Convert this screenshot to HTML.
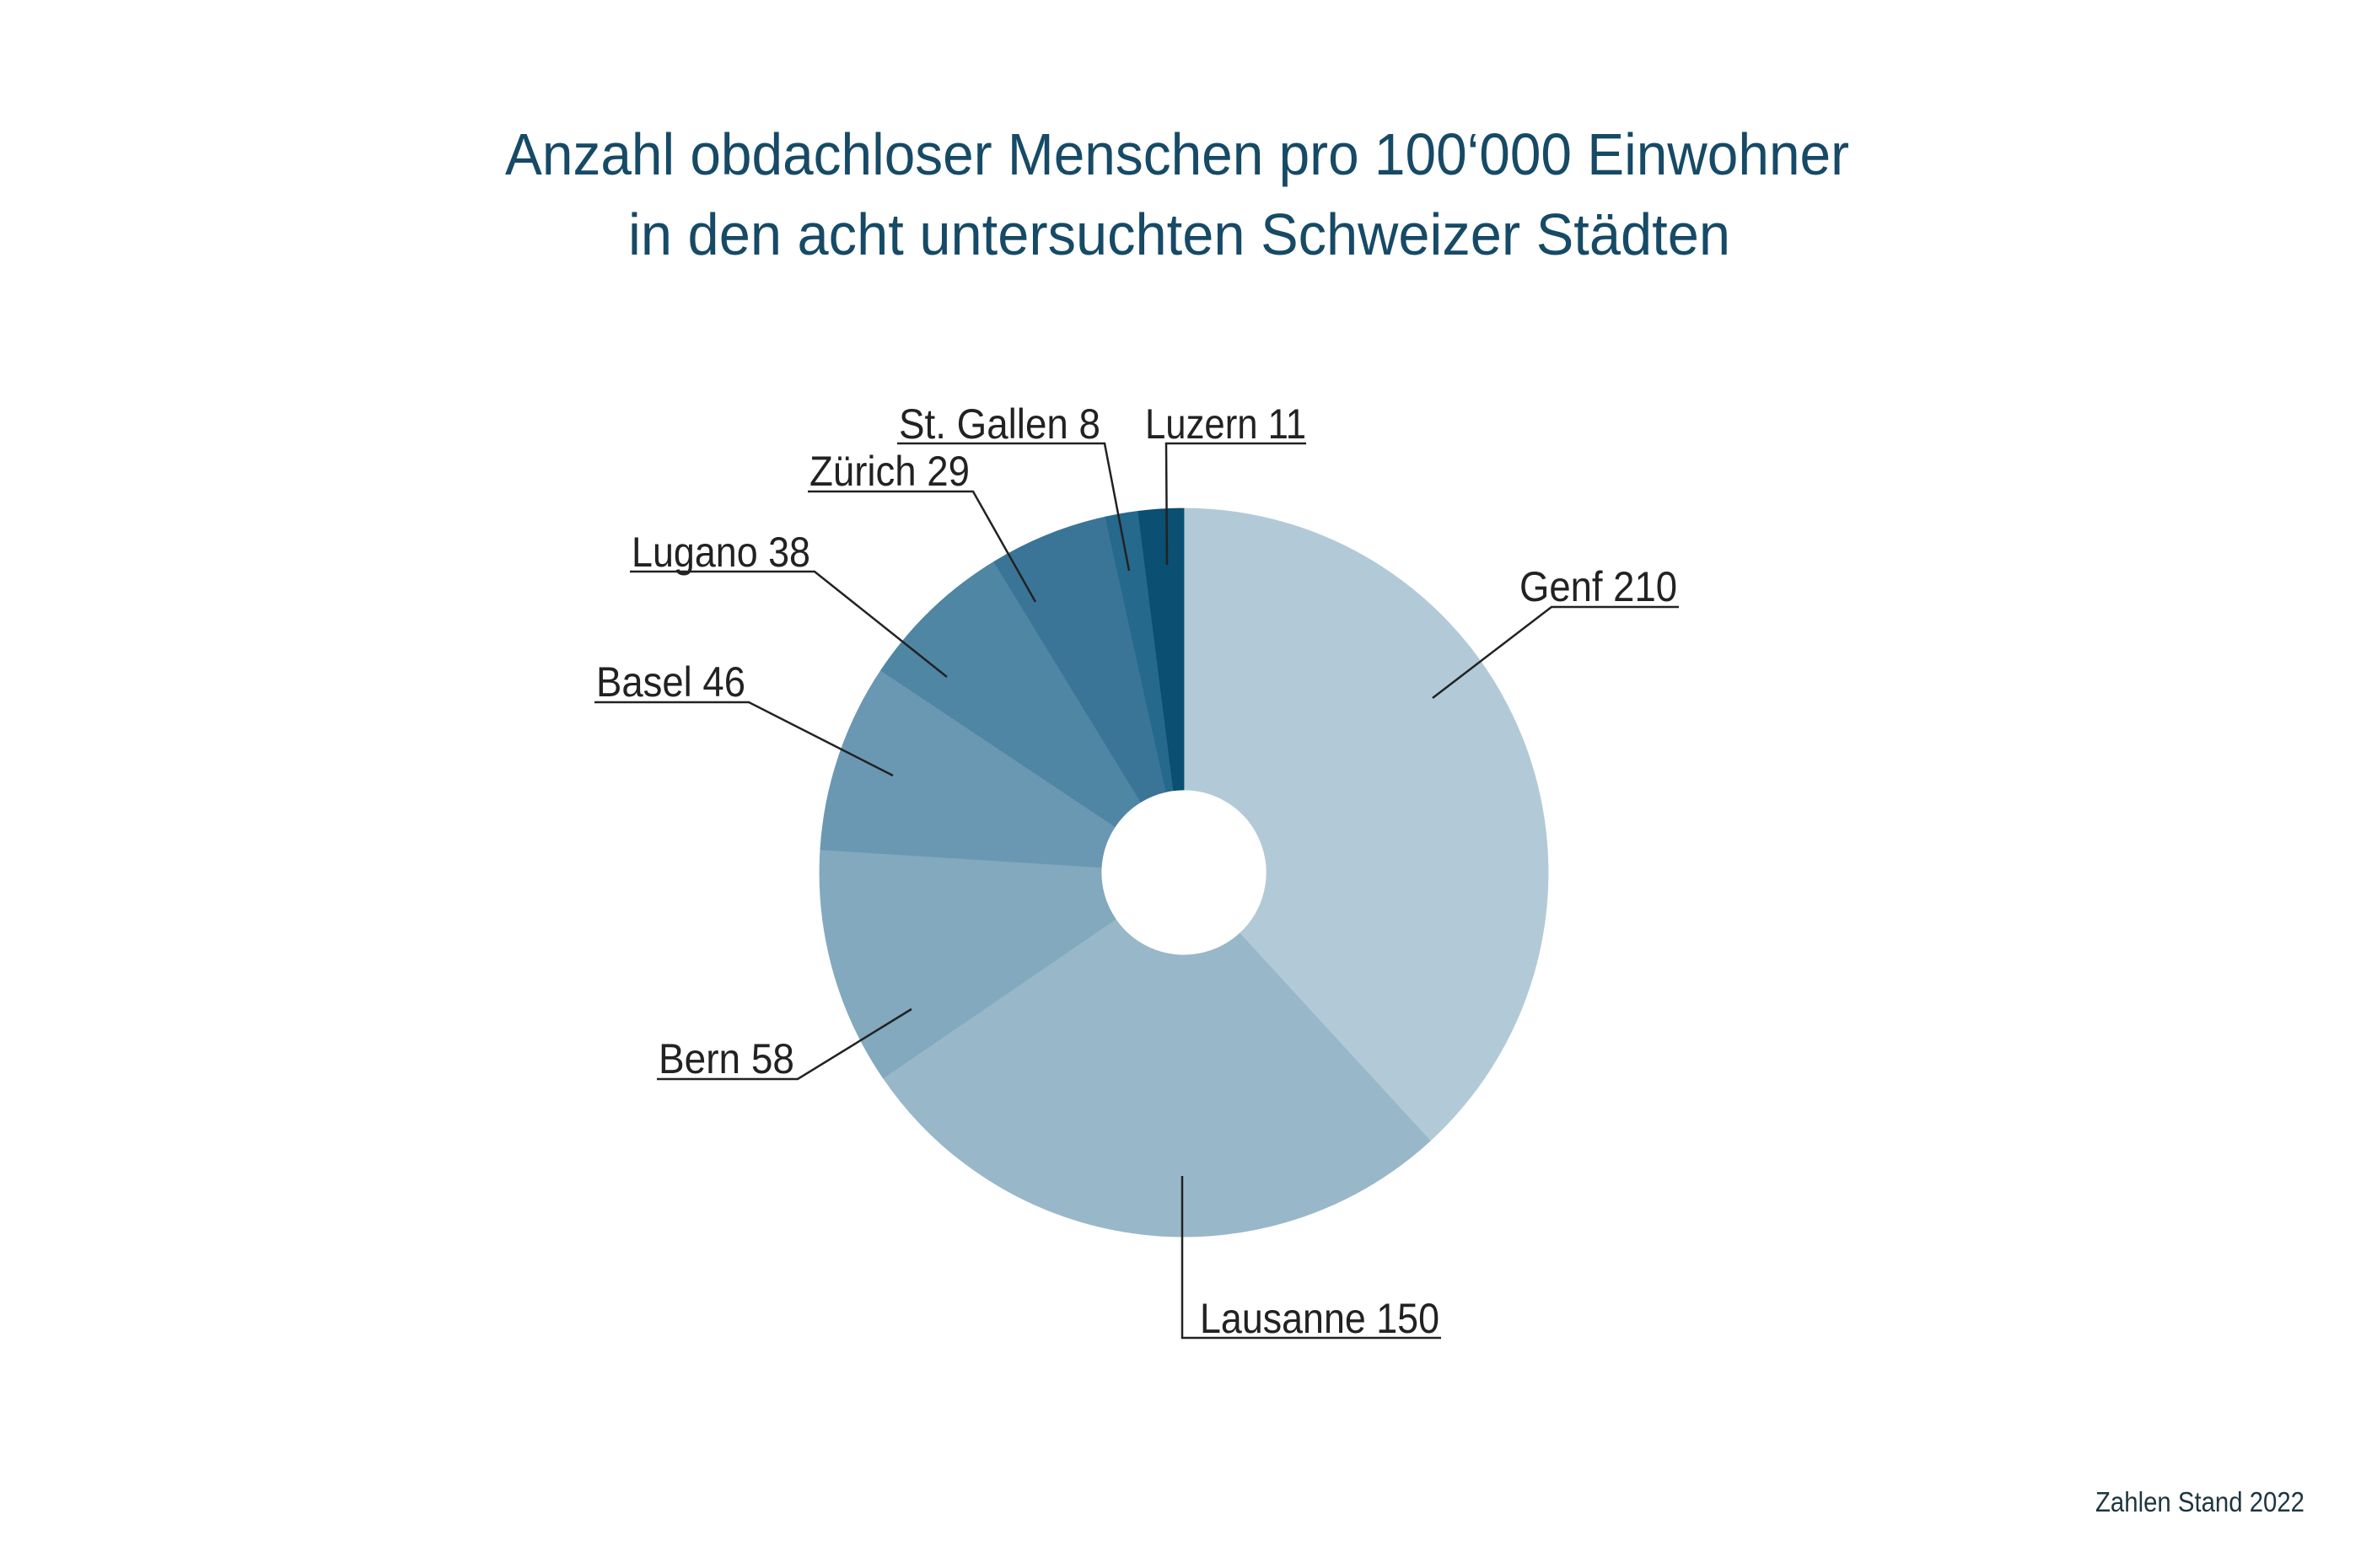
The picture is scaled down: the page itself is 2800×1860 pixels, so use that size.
<!DOCTYPE html>
<html><head><meta charset="utf-8">
<style>
html,body{margin:0;padding:0;background:#fff;}
svg{display:block;}
text{font-family:"Liberation Sans",sans-serif;}
</style></head>
<body>
<svg id="s" width="2800" height="1860" viewBox="0 0 2800 1860" xmlns="http://www.w3.org/2000/svg">
<rect width="2800" height="1860" fill="#fff"/>
<g id="pie"></g>
<text x="599" y="207" font-size="70" fill="#164a66" textLength="1594" lengthAdjust="spacingAndGlyphs">Anzahl obdachloser Menschen pro 100‘000 Einwohner</text>
<text x="745" y="302" font-size="70" fill="#164a66" textLength="1307" lengthAdjust="spacingAndGlyphs">in den acht untersuchten Schweizer Städten</text>
<g fill="#222" font-size="50">
<text x="1066" y="520" textLength="239" lengthAdjust="spacingAndGlyphs">St. Gallen  8</text>
<text x="1358" y="520" textLength="191" lengthAdjust="spacingAndGlyphs">Luzern  11</text>
<text x="960" y="576" textLength="190" lengthAdjust="spacingAndGlyphs">Zürich  29</text>
<text x="1802" y="713" textLength="187" lengthAdjust="spacingAndGlyphs">Genf  210</text>
<text x="749" y="672" textLength="212" lengthAdjust="spacingAndGlyphs">Lugano  38</text>
<text x="707" y="826" textLength="177" lengthAdjust="spacingAndGlyphs">Basel  46</text>
<text x="781" y="1273" textLength="161" lengthAdjust="spacingAndGlyphs">Bern  58</text>
<text x="1423" y="1581" textLength="284" lengthAdjust="spacingAndGlyphs">Lausanne  150</text>
</g>
<g stroke="#222" stroke-width="2.5" fill="none">
<polyline points="1064,526 1310,526 1339,677"/>
<polyline points="1549,526 1383,526 1384,670"/>
<polyline points="958,583 1154,583 1228,714"/>
<polyline points="1991,720 1840,720 1699,828"/>
<polyline points="747,678 966,678 1123,803"/>
<polyline points="705,833 888,833 1059,920"/>
<polyline points="779,1280 946,1280 1081,1197"/>
<polyline points="1402,1395 1402,1587 1709,1587"/>
</g>
<text x="2485" y="1793" font-size="33" fill="#1f3540" textLength="248" lengthAdjust="spacingAndGlyphs">Zahlen Stand 2022</text>
</svg>
<script>
(function(){
var vals=[210,150,58,46,38,29,8,11];
var cols=["#b2cad8","#98b8ca","#82a9be","#6a98b2","#4f86a4","#3a7598","#25698c","#0b4f72"];
var tot=0;vals.forEach(function(v){tot+=v;});
var cx=1404,cy=1035,R=432,r=98,a=0,g=document.getElementById("pie"),h="";
function pt(rad,ang){var t=ang*Math.PI/180;return (cx+rad*Math.sin(t)).toFixed(2)+","+(cy-rad*Math.cos(t)).toFixed(2);}
for(var i=0;i<vals.length;i++){
 var b=a+vals[i]/tot*360,l=(b-a)>180?1:0;
 var d="M"+pt(R,a)+" A"+R+","+R+" 0 "+l+" 1 "+pt(R,b)+" L"+pt(r,b)+" A"+r+","+r+" 0 "+l+" 0 "+pt(r,a)+" Z";
 h+='<path d="'+d+'" fill="'+cols[i]+'" stroke="'+cols[i]+'" stroke-width="0.8"/>';
 a=b;
}
g.innerHTML=h;
})();
</script>
</body></html>
